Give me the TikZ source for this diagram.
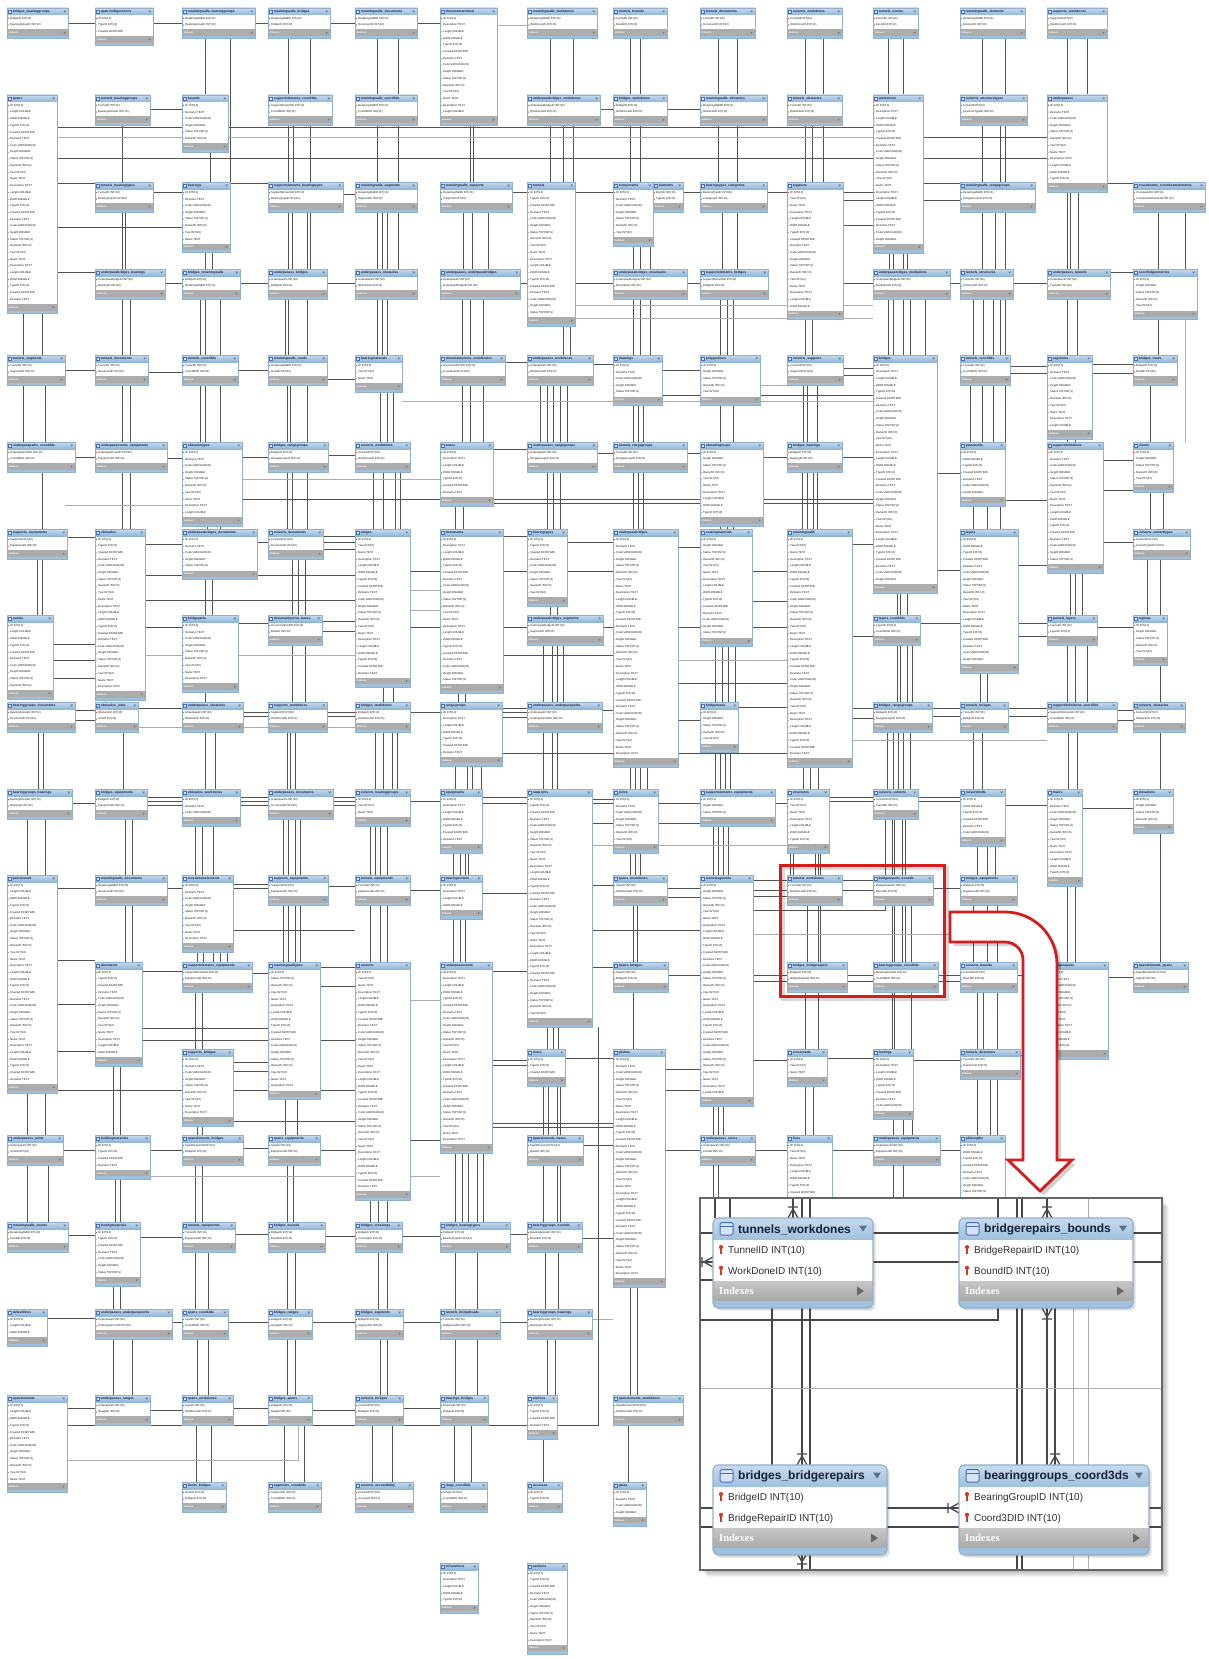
\documentclass[tikz,border=0pt]{standalone}
\usepackage{fontspec}
\setmainfont{Liberation Sans}
\newfontfamily\serifbf{Liberation Serif}
\definecolor{hdrT}{RGB}{200,219,238}
\definecolor{hdrB}{RGB}{143,182,216}
\definecolor{stripc}{RGB}{160,193,222}
\definecolor{idxc}{RGB}{172,172,172}
\definecolor{edgec}{RGB}{146,175,204}
\definecolor{ttlc}{RGB}{18,30,70}
\definecolor{trigc}{RGB}{90,112,145}
\definecolor{keyred}{RGB}{205,60,40}
\definecolor{attrc}{RGB}{110,150,195}
\definecolor{iconc}{RGB}{70,110,180}
\definecolor{iconf}{RGB}{214,228,246}
\definecolor{redc}{RGB}{214,28,28}
\definecolor{bidT}{RGB}{198,198,198}
\definecolor{bidB}{RGB}{170,170,170}
\definecolor{bttlc}{RGB}{22,32,58}
\tikzset{
 tnode/.style={rectangle, draw=none, fill=none, inner sep=0pt, outer sep=0pt},
 ttl/.style={anchor=west, inner sep=0pt, font=\fontsize{3.3}{3.6}\selectfont\bfseries, text=ttlc},
 fld/.style={anchor=west, inner sep=0pt, font=\fontsize{2.8}{3}\selectfont, text=black!90},
 idxt/.style={anchor=west, inner sep=0pt, font=\fontsize{2.6}{3}\selectfont\bfseries, text=white},
 cl/.style={draw=black!68, line width=0.55pt},
 cll/.style={draw=black!32, line width=0.45pt},
 il/.style={draw=black!72, line width=1.3pt},
 ill/.style={draw=black!32, line width=0.9pt},
 bttl/.style={anchor=west, inner sep=0pt, font=\fontsize{12}{14}\selectfont\bfseries, text=bttlc},
 bfld/.style={anchor=west, inner sep=0pt, font=\fontsize{10}{12}\selectfont, text=black!82},
 bidx/.style={anchor=west, inner sep=0pt, font=\serifbf\fontsize{10.5}{12}\selectfont\bfseries, text=white},
}
\newcommand\Gfld[1]{\ifcase#1 Name TEXT\or Description TEXT\or Length DOUBLE\or Width DOUBLE\or TypeID INT(10)\or Created DATETIME\or Remarks TEXT\or Code VARCHAR(45)\or Height DOUBLE\or Status TINYINT(1)\or OwnerID INT(10)\or Year INT(10)\fi}
% ---------- pass 1: nodes only
\newcommand\TblNode[6]{\pgfmathsetmacro\tbH{#5*6.7+17}\node[tnode, minimum width=#4pt, minimum height=\tbH pt, anchor=north west] (#1) at (#2,#3) {};}
\newcommand\TbjNode[7]{\TblNode{#1}{#2}{#3}{#4}{2}{#5}}
% ---------- pass 2: drawing
\newcommand{\TbCore}[6]{%
 \pgfmathsetmacro\tbH{#5*6.7+17}%
 \pgfmathsetmacro\tbI{#3+8+#5*6.7}%
 \fill[white] (#2,#3) rectangle ++(#4,\tbH);%
 \shade[top color=hdrT, bottom color=hdrB] (#2,#3) rectangle ++(#4,7);%
 \fill[idxc] (#2,\tbI) rectangle ++(#4,6.5);%
 \fill[stripc] (#2,\tbI+6.5) rectangle ++(#4,2.5);%
 \draw[edgec, line width=0.35pt] (#2,#3) rectangle ++(#4,\tbH);%
 \draw[iconc, fill=iconf, line width=0.3pt] (#2+1.3,#3+1.9) rectangle ++(3.2,3.2);%
 \fill[trigc] (#2+#4-4.6,#3+2.7) -- ++(2.6,0) -- ++(-1.3,1.7) -- cycle;%
 \node[ttl] (#1-t) at (#2+5.6,#3+3.6) {#6};%
 \node[idxt] (#1-i) at (#2+1.6,\tbI+3.3) {Indexes};%
 \fill[black!55] (#2+#4-4.2,\tbI+2.1) -- ++(0,2.3) -- ++(1.9,-1.15) -- cycle;%
}
\newcommand{\TblDraw}[6]{\TbCore{#1}{#2}{#3}{#4}{#5}{#6}%
 \foreach \i in {1,...,#5}{%
  \pgfmathsetmacro\fy{#3+7+(\i-0.5)*6.7}%
  \pgfmathtruncatemacro\kk{mod(\i+int(#2/37),12)}%
  \ifnum\i=1
   \fill[keyred] (#2+1.6,\fy) circle (0.6);
   \node[fld] (#1-f\i) at (#2+3,\fy) {ID INT(10)};
  \else
   \fill[attrc] (#2+1.6,\fy) circle (0.5);
   \node[fld] (#1-f\i) at (#2+3,\fy) {\Gfld{\kk}};
  \fi}}
\newcommand{\TbjDraw}[7]{\TbCore{#1}{#2}{#3}{#4}{2}{#5}%
 \fill[keyred] (#2+1.6,#3+10.35) circle (0.6);
 \node[fld] (#1-f1) at (#2+3,#3+10.35) {#6};
 \fill[keyred] (#2+1.6,#3+17.05) circle (0.6);
 \node[fld] (#1-f2) at (#2+3,#3+17.05) {#7};}
% ---------- connectors
\newcommand\VC[3]{\foreach \xx in {#3}{\draw[cl] (#1.south -| \xx,0) -- (#2.north -| \xx,0);}}
\newcommand\VCl[3]{\foreach \xx in {#3}{\draw[cll] (#1.south -| \xx,0) -- (#2.north -| \xx,0);}}
\newcommand\HC[3]{\foreach \yy in {#3}{\draw[cl] (#1.east |- 0,\yy) -- (#2.west |- 0,\yy);}}
\newcommand\HCl[3]{\foreach \yy in {#3}{\draw[cll] (#1.east |- 0,\yy) -- (#2.west |- 0,\yy);}}
% ---------- big tables
\newcommand\BigNode[4]{\node[tnode, minimum width=#4pt, minimum height=90pt, anchor=north west] (#1) at (#2,#3) {};}
\newcommand\BKey[2]{\fill[keyred] (#1,#2-3.6) circle (2.1); \draw[keyred, line width=1.3pt] (#1,#2-2) -- (#1,#2+3.6);}
\newcommand\BigTbl[7]{%
 \fill[black, opacity=0.13, rounded corners=5pt] (#2+2.5,#3+2.5) rectangle (#2+#4+2.5,#3+92.5);
 \fill[stripc, rounded corners=5pt] (#2,#3) rectangle (#2+#4,#3+90);
 \shade[top color=hdrT, bottom color=hdrB, rounded corners=5pt] (#2,#3) rectangle (#2+#4,#3+30);
 \fill[white] (#2,#3+22) rectangle (#2+#4,#3+63.5);
 \shade[top color=bidT, bottom color=bidB] (#2,#3+63.5) rectangle (#2+#4,#3+82);
 \draw[edgec, line width=1.1pt, rounded corners=5pt] (#2,#3) rectangle (#2+#4,#3+90);
 \draw[iconc, fill=iconf, line width=1pt, rounded corners=1.5pt] (#2+7,#3+4.5) rectangle (#2+20,#3+17);
 \draw[iconc, line width=0.8pt] (#2+7,#3+8) -- (#2+20,#3+8);
 \node[bttl] (#1-t) at (#2+25,#3+11.5) {#5};
 \fill[trigc] (#2+#4-14,#3+7.5) -- ++(8,0) -- ++(-4,6) -- cycle;
 \BKey{#2+8}{#3+32.7}
 \node[bfld] (#1-f1) at (#2+15,#3+32.7) {#6};
 \BKey{#2+8}{#3+53.4}
 \node[bfld] (#1-f2) at (#2+15,#3+53.4) {#7};
 \node[bidx] (#1-i) at (#2+6,#3+73) {Indexes};
 \fill[black!60] (#2+#4-16,#3+68.5) -- ++(0,9) -- ++(7,-4.5) -- cycle;
}
\newcommand\CfN[2]{\draw[il] (#1-5,#2) -- (#1,#2-9) -- (#1+5,#2) (#1,#2-9) -- (#1,#2) (#1-5,#2-11) -- (#1+5,#2-11);}
\newcommand\CfS[2]{\draw[il] (#1-5,#2) -- (#1,#2+9) -- (#1+5,#2) (#1,#2+9) -- (#1,#2) (#1-5,#2+11) -- (#1+5,#2+11);}
\newcommand\CfW[2]{\draw[il] (#1,#2-5) -- (#1-9,#2) -- (#1,#2+5) (#1-9,#2) -- (#1,#2) (#1-11,#2-5) -- (#1-11,#2+5);}
% ---------- table list
\newcommand\TableList{%
\Tbj{t0-0}{7}{8}{61}{bridges\_bearinggroups}{BridgeID INT(10)}{BearingGroupID INT(10)}
\Tbl{t1-0}{95}{8}{58}{3}{spanconfigurations}
\Tbj{t2-0}{182}{8}{73}{retainingwalls\_bearinggroups}{RetainingWallID INT(10)}{BearingGroupID INT(10)}
\Tbj{t3-0}{268}{8}{62}{retainingwalls\_bridges}{RetainingWallID INT(10)}{BridgeID INT(10)}
\Tbj{t4-0}{355}{8}{62}{retainingwalls\_documents}{RetainingWallID INT(10)}{DocumentID INT(10)}
\Tbl{t5-0}{440}{8}{57}{15}{documentarchival}
\Tbj{t6-0}{527}{8}{70}{retainingwalls\_workdones}{RetainingWallID INT(10)}{WorkDoneID INT(10)}
\Tbj{t7-0}{613}{8}{54}{tunnels\_bounds}{TunnelID INT(10)}{BoundID INT(10)}
\Tbj{t8-0}{700}{8}{55}{tunnels\_documents}{TunnelID INT(10)}{DocumentID INT(10)}
\Tbj{t9-0}{787}{8}{55}{culverts\_workdones}{CulvertID INT(10)}{WorkDoneID INT(10)}
\Tbj{t10-0}{873}{8}{45}{tunnels\_events}{TunnelID INT(10)}{EventID INT(10)}
\Tbj{t11-0}{960}{8}{65}{retainingwalls\_elements}{RetainingWallID INT(10)}{ElementID INT(10)}
\Tbj{t12-0}{1047}{8}{60}{supports\_workdones}{SupportID INT(10)}{WorkDoneID INT(10)}
%
\Tbl{t0-1}{7}{95}{50}{30}{spans}
\Tbj{t1-1}{95}{95}{55}{tunnels\_bearinggroups}{TunnelID INT(10)}{BearingGroupID INT(10)}
\Tbl{t2-1}{182}{95}{46}{6}{bounds}
\Tbj{t3-1}{268}{95}{64}{supportelements\_coord3ds}{SupportElementID INT(10)}{Coord3DID INT(10)}
\Tbj{t4-1}{355}{95}{62}{retainingwalls\_coord3ds}{RetainingWallID INT(10)}{Coord3DID INT(10)}
\Tbj{t6-1}{527}{95}{73}{underpassbridges\_workdones}{UnderpassBridgeID INT(10)}{WorkDoneID INT(10)}
\Tbj{t7-1}{613}{95}{54}{bridges\_workdones}{BridgeID INT(10)}{WorkDoneID INT(10)}
\Tbj{t8-1}{700}{95}{67}{retainingwalls\_obstacles}{RetainingWallID INT(10)}{ObstacleID INT(10)}
\Tbj{t9-1}{787}{95}{55}{tunnels\_obstacles}{TunnelID INT(10)}{ObstacleID INT(10)}
\Tbl{t10-1}{873}{95}{50}{21}{workdones}
\Tbj{t11-1}{960}{95}{67}{culverts\_structuretypes}{CulvertID INT(10)}{StructureTypeID INT(10)}
\Tbl{t12-1}{1047}{95}{60}{12}{underpasses}
%
\Tbj{t1-2}{95}{182}{58}{tunnels\_bearingtypes}{TunnelID INT(10)}{BearingTypeID INT(10)}
\Tbl{t2-2}{182}{182}{48}{8}{bearings}
\Tbj{t3-2}{268}{182}{75}{supportelements\_bearingtypes}{SupportElementID INT(10)}{BearingTypeID INT(10)}
\Tbj{t4-2}{355}{182}{62}{retainingwalls\_segments}{RetainingWallID INT(10)}{SegmentID INT(10)}
\Tbj{t5-2}{440}{182}{72}{retainingwalls\_supports}{RetainingWallID INT(10)}{SupportID INT(10)}
\Tbl{t6-2}{527}{182}{48}{19}{tunnels}
\Tbl{t7-2}{613}{182}{40}{7}{components}
\Tbj{t7b-2}{653}{182}{30}{elements}{ElemID INT(10)}{TypeID INT(10)}
\Tbj{t8-2}{700}{182}{67}{bearingtypes\_categories}{BearingTypeID INT(10)}{CategoryID INT(10)}
\Tbl{t9-2}{787}{182}{56}{18}{supports}
\Tbj{t11-2}{960}{182}{75}{retainingwalls\_rangegroups}{RetainingWallID INT(10)}{RangeGroupID INT(10)}
\Tbj{t13-2}{1133}{182}{72}{crossbeams\_crossbeamelements}{CrossbeamID INT(10)}{CrossbeamElementID INT(10)}
%
\Tbj{t1-3}{95}{269}{70}{underpassbridges\_bearings}{UnderpassBridgeID INT(10)}{BearingID INT(10)}
\Tbj{t2-3}{182}{269}{58}{bridges\_retainingwalls}{BridgeID INT(10)}{RetainingWallID INT(10)}
\Tbj{t3-3}{268}{269}{59}{underpasses\_bridges}{UnderpassID INT(10)}{BridgeID INT(10)}
\Tbj{t4-3}{355}{269}{62}{underpasses\_obstacles}{UnderpassID INT(10)}{ObstacleID INT(10)}
\Tbj{t5-3}{440}{269}{80}{underpasses\_underpassbridges}{UnderpassID INT(10)}{UnderpassBridgeID INT(10)}
\Tbj{t7-3}{613}{269}{74}{underpassbridges\_mountains}{UnderpassBridgeID INT(10)}{MountainID INT(10)}
\Tbj{t8-3}{700}{269}{68}{supportelements\_bridges}{SupportElementID INT(10)}{BridgeID INT(10)}
\Tbj{t10-3}{873}{269}{77}{underpassbridges\_mediations}{UnderpassBridgeID INT(10)}{MediationID INT(10)}
\Tbj{t11-3}{960}{269}{53}{tunnels\_structures}{TunnelID INT(10)}{StructureID INT(10)}
\Tbj{t12-3}{1047}{269}{63}{underpasses\_tunnels}{UnderpassID INT(10)}{TunnelID INT(10)}
\Tbl{t13-3}{1133}{269}{64}{5}{coord3dgeometries}
%
\Tbj{t0-4}{7}{355}{58}{tunnels\_segments}{TunnelID INT(10)}{SegmentID INT(10)}
\Tbj{t1-4}{95}{355}{53}{tunnels\_documents}{TunnelID INT(10)}{DocumentID INT(10)}
\Tbj{t2-4}{182}{355}{56}{tunnels\_coord3ds}{TunnelID INT(10)}{Coord3DID INT(10)}
\Tbj{t3-4}{268}{355}{59}{retainingwalls\_roads}{RetainingWallID INT(10)}{RoadID INT(10)}
\Tbl{t4-4}{355}{355}{47}{3}{bearingmaterials}
\Tbj{t5-4}{440}{355}{65}{documentpoints\_coordinates}{DocumentPointID INT(10)}{CoordinateID INT(10)}
\Tbj{t6-4}{527}{355}{66}{underpasses\_workdones}{UnderpassID INT(10)}{WorkDoneID INT(10)}
\Tbl{t7-4}{613}{355}{49}{5}{drawings}
\Tbl{t8-4}{700}{355}{60}{5}{polygonlines}
\Tbj{t9-4}{787}{355}{56}{culverts\_supports}{CulvertID INT(10)}{SupportID INT(10)}
\Tbl{t10-4}{873}{355}{64}{33}{bridges}
\Tbj{t11-4}{960}{355}{50}{tunnels\_coord3ds}{TunnelID INT(10)}{Coord3DID INT(10)}
\Tbl{t12-4}{1047}{355}{45}{10}{segments}
\Tbj{t13-4}{1133}{355}{44}{bridges\_roads}{BridgeID INT(10)}{RoadID INT(10)}
%
\Tbj{t0-5}{7}{442}{68}{underpasspaths\_coord3ds}{UnderpassPathID INT(10)}{Coord3DID INT(10)}
\Tbj{t1-5}{95}{442}{72}{underpassevents\_equipments}{UnderpassEventID INT(10)}{EquipmentID INT(10)}
\Tbl{t2-5}{182}{442}{60}{10}{obstacletypes}
\Tbj{t3-5}{268}{442}{60}{bridges\_rangegroups}{BridgeID INT(10)}{RangeGroupID INT(10)}
\Tbj{t4-5}{355}{442}{55}{culverts\_workdones}{CulvertID INT(10)}{WorkDoneID INT(10)}
\Tbl{t5-5}{440}{442}{53}{7}{zones}
\Tbj{t6-5}{527}{442}{70}{underpasses\_rangegroups}{UnderpassID INT(10)}{RangeGroupID INT(10)}
\Tbj{t7-5}{613}{442}{74}{tunnels\_rangegroups}{TunnelID INT(10)}{RangeGroupID INT(10)}
\Tbl{t8-5}{700}{442}{63}{10}{obstaclegroups}
\Tbj{t9-5}{787}{442}{55}{bridges\_bearings}{BridgeID INT(10)}{BearingID INT(10)}
\Tbl{t11-5}{960}{442}{45}{7}{pavements}
\Tbl{t12-5}{1047}{442}{56}{17}{supportdefinitions}
\Tbl{t13-5}{1133}{442}{40}{5}{clients}
%
\Tbj{t0-6}{7}{529}{60}{supports\_equipments}{SupportID INT(10)}{EquipmentID INT(10)}
\Tbl{t1-6}{95}{529}{50}{23}{obstacles}
\Tbl{t2-6}{182}{529}{75}{5}{underpassbridges\_documents}
\Tbj{t3-6}{268}{529}{55}{culverts\_documents}{CulvertID INT(10)}{DocumentID INT(10)}
\Tbl{t4-6}{355}{529}{55}{21}{ranges}
\Tbl{t5-6}{440}{529}{63}{22}{documents}
\Tbl{t6-6}{527}{529}{40}{9}{bearingtypes}
\Tbl{t7-6}{613}{529}{65}{33}{underpassbridges}
\Tbl{t8-6}{700}{529}{52}{15}{coatingmaterials}
\Tbl{t9-6}{787}{529}{65}{33}{retainingwalls}
\Tbl{t11-6}{960}{529}{58}{19}{layers}
\Tbj{t13-6}{1133}{529}{57}{culverts\_culverttypes}{CulvertID INT(10)}{CulvertTypeID INT(10)}
%
\Tbl{t0-7}{7}{615}{46}{10}{events}
\Tbl{t2-7}{182}{615}{56}{9}{bridgeparts}
\Tbj{t3-7}{268}{615}{54}{documentpoints\_bases}{DocumentPointID INT(10)}{BaseID INT(10)}
\Tbj{t6-7}{527}{615}{76}{underpassbridges\_segments}{UnderpassBridgeID INT(10)}{SegmentID INT(10)}
\Tbj{t10-7}{873}{615}{47}{layers\_coord3ds}{LayerID INT(10)}{Coord3DID INT(10)}
\Tbj{t12-7}{1047}{615}{50}{tunnels\_layers}{TunnelID INT(10)}{LayerID INT(10)}
\Tbl{t13-7}{1133}{615}{34}{5}{regions}
%
\Tbj{t0-8}{7}{702}{68}{bearinggroups\_documents}{BearingGroupID INT(10)}{DocumentID INT(10)}
\Tbj{t1-8}{95}{702}{43}{obstacles\_joins}{ObstacleID INT(10)}{JoinID INT(10)}
\Tbj{t2-8}{182}{702}{61}{underpasses\_obstacles}{UnderpassID INT(10)}{ObstacleID INT(10)}
\Tbj{t3-8}{268}{702}{59}{supports\_workdones}{SupportID INT(10)}{WorkDoneID INT(10)}
\Tbj{t4-8}{355}{702}{55}{bridges\_workdones}{BridgeID INT(10)}{WorkDoneID INT(10)}
\Tbl{t5-8}{440}{702}{62}{7}{rangegroups}
\Tbj{t6-8}{527}{702}{75}{underpasses\_underpasspaths}{UnderpassID INT(10)}{UnderpassPathID INT(10)}
\Tbl{t8-8}{700}{702}{38}{5}{bridgeheads}
\Tbj{t10-8}{873}{702}{59}{bridges\_rangegroups}{BridgeID INT(10)}{RangeGroupID INT(10)}
\Tbj{t11-8}{960}{702}{48}{tunnels\_bridges}{TunnelID INT(10)}{BridgeID INT(10)}
\Tbj{t12-8}{1047}{702}{70}{supportdefinitions\_coord3ds}{SupportDefinitionID INT(10)}{Coord3DID INT(10)}
\Tbj{t13-8}{1133}{702}{52}{culverts\_obstacles}{CulvertID INT(10)}{ObstacleID INT(10)}
%
\Tbj{t0-9}{7}{789}{65}{bearinggroups\_bearings}{BearingGroupID INT(10)}{BearingID INT(10)}
\Tbj{t1-9}{95}{789}{52}{bridges\_equipments}{BridgeID INT(10)}{EquipmentID INT(10)}
\Tbl{t2-9}{182}{789}{58}{3}{obstacles\_workdones}
\Tbj{t3-9}{268}{789}{65}{underpasses\_documents}{UnderpassID INT(10)}{DocumentID INT(10)}
\Tbl{t4-9}{355}{789}{55}{3}{culverts\_bearinggroups}
\Tbl{t5-9}{440}{789}{42}{7}{equipments}
\Tbl{t6-9}{527}{789}{65}{33}{rawpoints}
\Tbl{t7-9}{613}{789}{45}{7}{joints}
\Tbl{t8-9}{700}{789}{75}{3}{supportelements\_equipments}
\Tbl{t9-9}{787}{789}{42}{7}{structures}
\Tbj{t10-9}{873}{789}{45}{culverts\_culverts}{CulvertID INT(10)}{ParentID INT(10)}
\Tbl{t11-9}{960}{789}{45}{6}{culvertdrafts}
\Tbl{t12-9}{1047}{789}{35}{12}{towns}
\Tbl{t13-9}{1133}{789}{40}{4}{elevations}
%
\Tbl{t0-10}{7}{875}{50}{30}{pointclouds}
\Tbj{t1-10}{95}{875}{72}{retainingwalls\_documents}{RetainingWallID INT(10)}{DocumentID INT(10)}
\Tbl{t2-10}{182}{875}{51}{9}{crossbeamelements}
\Tbj{t3-10}{268}{875}{60}{supports\_equipments}{SupportID INT(10)}{EquipmentID INT(10)}
\Tbj{t4-10}{355}{875}{55}{tunnels\_equipments}{TunnelID INT(10)}{EquipmentID INT(10)}
\Tbl{t5-10}{440}{875}{42}{4}{bearingmodels}
\Tbj{t7-10}{613}{875}{54}{spans\_workdones}{SpanID INT(10)}{WorkDoneID INT(10)}
\Tbl{t8-10}{700}{875}{53}{32}{tunnelsegments}
\Tbj{t9-10}{787}{875}{55}{tunnels\_workdones}{TunnelID INT(10)}{WorkDoneID INT(10)}
\Tbj{t10-10}{873}{875}{60}{bridgerepairs\_bounds}{BridgeRepairID INT(10)}{BoundID INT(10)}
\Tbj{t11-10}{960}{875}{57}{bridges\_equipments}{BridgeID INT(10)}{EquipmentID INT(10)}
%
\Tbl{t1-11}{95}{962}{47}{13}{abutments}
\Tbj{t2-11}{182}{962}{70}{supportelements\_equipments}{SupportElementID INT(10)}{EquipmentID INT(10)}
\Tbl{t3-11}{268}{962}{52}{18}{retainingwalltypes}
\Tbl{t4-11}{355}{962}{55}{33}{culverts}
\Tbl{t5-11}{440}{962}{52}{26}{underpassevents}
\Tbj{t7-11}{613}{962}{55}{spans\_bridges}{SpanID INT(10)}{BridgeID INT(10)}
\Tbj{t9-11}{787}{962}{60}{bridges\_bridgerepairs}{BridgeID INT(10)}{BridgeRepairID INT(10)}
\Tbj{t10-11}{873}{962}{65}{bearinggroups\_coord3ds}{BearingGroupID INT(10)}{Coord3DID INT(10)}
\Tbj{t11-11}{960}{962}{57}{culverts\_bounds}{CulvertID INT(10)}{BoundID INT(10)}
\Tbl{t12-11}{1047}{962}{61}{12}{bridgerepairs}
\Tbj{t13-11}{1133}{962}{55}{spanelements\_spans}{SpanElementID INT(10)}{SpanID INT(10)}
%
\Tbl{t2-12}{182}{1049}{51}{9}{supports\_bridges}
\Tbl{t6-12}{527}{1049}{38}{3}{rivers}
\Tbl{t7-12}{613}{1049}{52}{33}{girders}
\Tbl{t9-12}{787}{1049}{40}{3}{crossroads}
\Tbl{t10-12}{873}{1049}{40}{8}{footings}
\Tbj{t11-12}{960}{1049}{60}{tunnels\_directions}{TunnelID INT(10)}{DirectionID INT(10)}
%
\Tbj{t0-13}{7}{1135}{56}{underpasses\_joints}{UnderpassID INT(10)}{JointID INT(10)}
\Tbl{t1-13}{95}{1135}{55}{4}{buildingmaterials}
\Tbj{t2-13}{182}{1135}{61}{spanelements\_bridges}{SpanElementID INT(10)}{BridgeID INT(10)}
\Tbj{t3-13}{268}{1135}{52}{spans\_equipments}{SpanID INT(10)}{EquipmentID INT(10)}
\Tbj{t6-13}{527}{1135}{56}{spanelements\_bases}{SpanElementID INT(10)}{BaseID INT(10)}
\Tbj{t8-13}{700}{1135}{55}{underpasses\_zones}{UnderpassID INT(10)}{ZoneID INT(10)}
\Tbl{t9-13}{787}{1135}{45}{10}{lines}
\Tbj{t10-13}{873}{1135}{67}{underpasses\_equipments}{UnderpassID INT(10)}{EquipmentID INT(10)}
\Tbl{t11-13}{960}{1135}{45}{10}{pilelengths}
%
\Tbj{t0-14}{7}{1222}{61}{retainingwalls\_events}{RetainingWallID INT(10)}{EventID INT(10)}
\Tbl{t1-14}{95}{1222}{45}{7}{footingmaterials}
\Tbj{t2-14}{182}{1222}{53}{tunnels\_equipments}{TunnelID INT(10)}{EquipmentID INT(10)}
\Tbj{t3-14}{268}{1222}{57}{bridges\_bounds}{BridgeID INT(10)}{BoundID INT(10)}
\Tbj{t4-14}{355}{1222}{47}{bridges\_crossings}{BridgeID INT(10)}{CrossingID INT(10)}
\Tbj{t5-14}{440}{1222}{70}{bridges\_bearingtypes}{BridgeID INT(10)}{BearingTypeID INT(10)}
\Tbj{t6-14}{527}{1222}{55}{bearinggroups\_bounds}{BearingGroupID INT(10)}{BoundID INT(10)}
%
\Tbl{t0-15}{7}{1309}{40}{3}{defaultlines}
\Tbj{t1-15}{95}{1309}{77}{underpasses\_underpasspoints}{UnderpassID INT(10)}{UnderpassPointID INT(10)}
\Tbj{t2-15}{182}{1309}{46}{spans\_coord3ds}{SpanID INT(10)}{Coord3DID INT(10)}
\Tbj{t3-15}{268}{1309}{44}{bridges\_ranges}{BridgeID INT(10)}{RangeID INT(10)}
\Tbj{t4-15}{355}{1309}{48}{bridges\_segments}{BridgeID INT(10)}{SegmentID INT(10)}
\Tbj{t5-15}{440}{1309}{60}{tunnels\_bridgeheads}{TunnelID INT(10)}{BridgeheadID INT(10)}
\Tbj{t6-15}{527}{1309}{65}{bearinggroups\_bearings}{BearingGroupID INT(10)}{BearingID INT(10)}
%
\Tbl{t0-16}{7}{1395}{60}{12}{spanelements}
\Tbj{t1-16}{95}{1395}{55}{underpasses\_ranges}{UnderpassID INT(10)}{RangeID INT(10)}
\Tbj{t2-16}{182}{1395}{51}{spans\_workdones}{SpanID INT(10)}{WorkDoneID INT(10)}
\Tbj{t3-16}{268}{1395}{44}{bridges\_spans}{BridgeID INT(10)}{SpanID INT(10)}
\Tbj{t4-16}{355}{1395}{48}{culverts\_bridges}{CulvertID INT(10)}{BridgeID INT(10)}
\Tbj{t5-16}{440}{1395}{48}{bearings\_bridges}{BearingID INT(10)}{BridgeID INT(10)}
\Tbl{t6-16}{527}{1395}{30}{4}{stations}
\Tbj{t7-16}{613}{1395}{70}{spanelements\_workdones}{SpanElementID INT(10)}{WorkDoneID INT(10)}
%
\Tbj{t2-17}{182}{1482}{44}{doors\_bridges}{DoorID INT(10)}{BridgeID INT(10)}
\Tbj{t3-17}{268}{1482}{53}{segments\_coord3ds}{SegmentID INT(10)}{Coord3DID INT(10)}
\Tbj{t4-17}{355}{1482}{58}{culverts\_accessibility}{CulvertID INT(10)}{AccessID INT(10)}
\Tbj{t5-17}{440}{1482}{47}{rings\_coord3ds}{RingID INT(10)}{Coord3DID INT(10)}
\Tbl{t6-17}{527}{1482}{35}{2}{accesses}
\Tbl{t7-17}{613}{1482}{33}{4}{gates}
%
\Tbl{t5-18}{440}{1563}{38}{5}{infostations}
\Tbl{t6-18}{527}{1563}{40}{11}{sections}
}
\begin{document}
\begin{tikzpicture}[x=1pt,y=-1pt]
\useasboundingbox (0,0) rectangle (1208,1659);
\fill[white] (0,0) rectangle (1208,1659);
% ===== pass 1: define table nodes
\let\Tbl\TblNode \let\Tbj\TbjNode
\TableList
% ===== vertical connectors
\VC{t0-1}{t0-4}{23,42} \VC{t0-4}{t0-5}{23,45} \VC{t0-5}{t0-6}{42} \VC{t0-6}{t0-7}{37,42}
\VC{t0-8}{t0-9}{38,43} \VC{t0-9}{t0-10}{27,45} \VC{t0-10}{t0-13}{27,45} \VC{t0-13}{t0-14}{27,48}
\VC{t1-1}{t1-2}{122} \VC{t1-2}{t1-3}{122,125} \VC{t1-3}{t1-4}{122,130} \VC{t1-4}{t1-5}{122,130}
\VC{t1-5}{t1-6}{122,130} \VC{t1-8}{t1-9}{123} \VC{t1-9}{t1-10}{125,132} \VC{t1-10}{t1-11}{125,132}
\VC{t1-11}{t1-13}{113,120} \VC{t1-13}{t1-14}{115,120} \VC{t1-14}{t1-15}{113,120} \VC{t1-15}{t1-16}{113,132}
\VC{t2-0}{t2-1}{205} \VC{t2-0}{t2-2}{230} \VC{t2-1}{t2-2}{210} \VC{t2-2}{t2-3}{205,212}
\VC{t2-3}{t2-4}{200,205,220} \VC{t2-4}{t2-5}{200,205,220} \VC{t2-5}{t2-6}{207,220} \VC{t2-6}{t2-7}{205,212}
\VC{t2-7}{t2-8}{205} \VC{t2-8}{t2-9}{205,215} \VC{t2-9}{t2-10}{195,202,213} \VC{t2-10}{t2-11}{197,203,213,220,227}
\VC{t2-11}{t2-12}{195,202} \VC{t2-12}{t2-13}{197,202} \VC{t2-13}{t2-14}{195,202} \VC{t2-14}{t2-15}{195,208}
\VC{t2-15}{t2-16}{197,208} \VC{t2-16}{t2-17}{196,211}
\VC{t3-0}{t3-1}{288,310} \VC{t3-1}{t3-2}{288,293,310} \VC{t3-2}{t3-3}{288,292,307,310} \VC{t3-3}{t3-4}{285,288,307}
\VC{t3-4}{t3-5}{287,290,307} \VC{t3-5}{t3-6}{287,292,307} \VC{t3-6}{t3-7}{292,298,305} \VC{t3-7}{t3-8}{292,305}
\VC{t3-8}{t3-9}{287,290,295} \VC{t3-9}{t3-10}{283,288,295,300} \VC{t3-10}{t3-11}{283,288,295,300} \VC{t3-11}{t3-13}{285,297}
\VC{t3-13}{t3-14}{287,293} \VC{t3-14}{t3-15}{287,295} \VC{t3-15}{t3-16}{287,295} \VC{t3-16}{t3-17}{284,304}
\VC{t4-0}{t4-1}{377,398} \VC{t4-1}{t4-2}{377,398} \VC{t4-2}{t4-3}{377,382,387,398} \VC{t4-3}{t4-4}{377,382,387}
\VC{t4-4}{t4-5}{380,387,393} \VC{t4-5}{t4-6}{373,383,395,400} \VC{t4-6}{t4-8}{383,393} \VC{t4-8}{t4-9}{375,383,392,397}
\VC{t4-9}{t4-10}{370,375,380,387} \VC{t4-10}{t4-11}{370,380,387} \VC{t4-11}{t4-14}{370,378,387} \VC{t4-14}{t4-15}{378,387}
\VC{t4-15}{t4-16}{380,387} \VC{t4-16}{t4-17}{372,392}
\VC{t5-0}{t5-2}{470,473} \VC{t5-2}{t5-3}{463,472,488} \VC{t5-3}{t5-4}{462,470,483} \VC{t5-4}{t5-5}{462,470,483}
\VC{t5-5}{t5-6}{455,463} \VC{t5-6}{t5-8}{458,465} \VC{t5-8}{t5-9}{455,467,472,481} \VC{t5-9}{t5-10}{453,460,465,468}
\VC{t5-10}{t5-11}{453,460,465} \VC{t5-11}{t5-14}{455,462,468,477,483} \VC{t5-14}{t5-15}{455,477} \VC{t5-15}{t5-16}{455,477}
\VC{t5-16}{t5-17}{454,471}
\VC{t6-0}{t6-1}{550,573} \VC{t6-1}{t6-2}{550,563,573} \VC{t6-2}{t6-4}{563,570} \VC{t6-4}{t6-5}{540,547,553,560,567}
\VC{t6-5}{t6-6}{547,553,560} \VC{t6-6}{t6-7}{550,557} \VC{t6-7}{t6-8}{543,552,557,563} \VC{t6-8}{t6-9}{543,552,557}
\VC{t6-9}{t6-12}{547,553,558} \VC{t6-12}{t6-13}{543,548,557,560} \VC{t6-13}{t6-14}{543,557,560} \VC{t6-14}{t6-15}{545,558}
\VC{t6-15}{t6-16}{547,555} \VC{t6-16}{t6-17}{543}
\VC{t7-0}{t7-1}{630,640} \VC{t7-1}{t7-2}{630,640} \VC{t7-2}{t7-4}{633,640,650} \VC{t7-4}{t7-5}{633,638,643}
\VC{t7-5}{t7-6}{633,638,643} \VC{t7-6}{t7-9}{630,635,640,647} \VC{t7-9}{t7-10}{630,635,640} \VC{t7-10}{t7-11}{633,637}
\VC{t7-11}{t7-12}{633} \VC{t7-12}{t7-16}{630,637} \VC{t7-16}{t7-17}{628}
\VC{t8-0}{t8-1}{718,737} \VC{t8-1}{t8-2}{718,737} \VC{t8-2}{t8-3}{722,737} \VC{t8-3}{t8-4}{720,727,733}
\VC{t8-4}{t8-5}{720,733} \VC{t8-5}{t8-6}{720,727,733} \VC{t8-6}{t8-8}{715,722,728,735} \VC{t8-8}{t8-9}{715,720,725,730}
\VC{t8-9}{t8-10}{713,718,723,728} \VC{t8-10}{t8-13}{713,718,723}
\VC{t9-0}{t9-1}{805,823} \VC{t9-1}{t9-2}{805,812,823} \VC{t9-2}{t9-4}{805,812} \VC{t9-4}{t9-5}{803,807,817}
\VC{t9-5}{t9-6}{802,807,813,817} \VC{t9-6}{t9-9}{803,810,818} \VC{t9-9}{t9-10}{790,793,815,818,820}
\VC{t9-10}{t9-11}{807,818,820} \VC{t9-11}{t9-12}{805,818} \VC{t9-12}{t9-13}{805,813}
\VC{t10-0}{t10-1}{888,903} \VC{t10-1}{t10-3}{889,893,903,907} \VC{t10-3}{t10-4}{888,893,903,910,925}
\VC{t10-4}{t10-7}{897,900,907} \VC{t10-7}{t10-8}{897,900,907,912} \VC{t10-8}{t10-9}{887,893,898,903,910}
\VC{t10-9}{t10-10}{892,894,902,905} \VC{t10-10}{t10-11}{892,894,902,905,911} \VC{t10-11}{t10-12}{892,894,911}
\VC{t10-12}{t10-13}{893,903,912}
\VC{t11-0}{t11-1}{982,1005} \VC{t11-1}{t11-2}{982,1000,1005} \VC{t11-2}{t11-3}{982,995,1005}
\VC{t11-3}{t11-4}{973,983,993,1000,1005} \VC{t11-4}{t11-5}{970,982,993,1005} \VC{t11-5}{t11-6}{973,987,1000}
\VC{t11-6}{t11-8}{980,987} \VC{t11-8}{t11-9}{973,982} \VC{t11-9}{t11-10}{977,987,995} \VC{t11-10}{t11-11}{973,987,997}
\VC{t11-11}{t11-12}{977,983,997} \VC{t11-12}{t11-13}{977,990,997}
\VC{t12-0}{t12-1}{1067,1087} \VC{t12-1}{t12-3}{1067,1070,1078} \VC{t12-3}{t12-4}{1067,1077} \VC{t12-4}{t12-5}{1067,1075}
\VC{t12-5}{t12-7}{1070,1075,1082} \VC{t12-7}{t12-8}{1067,1075,1087} \VC{t12-8}{t12-9}{1068,1077} \VC{t12-9}{t12-11}{1067,1075}
\VC{t13-2}{t13-3}{1158,1185} \VC{t13-3}{t13-4}{1158} \VC{t13-4}{t13-5}{1150} \VC{t13-5}{t13-6}{1150,1163}
\VC{t13-6}{t13-7}{1147,1160} \VC{t13-7}{t13-8}{1160} \VC{t13-8}{t13-9}{1160} \VC{t13-9}{t13-11}{1160}
\VCl{t13-3}{t13-5}{1185} \VCl{t1-6}{t1-8}{105}
% ===== horizontal connectors
\HC{t0-0}{t1-0}{23} \HC{t1-0}{t2-0}{23} \HC{t2-0}{t3-0}{23} \HC{t3-0}{t4-0}{23} \HC{t4-0}{t5-0}{23} \HCl{t5-0}{t6-0}{25}
\HC{t1-1}{t2-1}{109} \HC{t0-1}{t10-1}{127,158} \HCl{t0-1}{t10-1}{137} \HC{t6-1}{t7-1}{109} \HC{t7-1}{t8-1}{109}
\HC{t10-1}{t12-1}{137,158}
\HC{t0-1}{t1-2}{183} \HC{t1-2}{t2-2}{192} \HC{t2-2}{t3-2}{183} \HC{t3-2}{t4-2}{194} \HC{t0-1}{t2-2}{227}
\HC{t5-2}{t6-2}{192} \HC{t6-2}{t7-2}{192} \HC{t7b-2}{t8-2}{192} \HC{t8-2}{t9-2}{192} \HC{t9-2}{t10-1}{192,200,225}
\HC{t10-1}{t11-2}{183,200} \HC{t12-1}{t13-2}{183}
\HC{t0-1}{t1-3}{272} \HC{t1-3}{t2-3}{283} \HC{t2-3}{t3-3}{283} \HC{t3-3}{t4-3}{283} \HC{t5-3}{t6-2}{283}
\HC{t6-2}{t7-3}{283} \HC{t7-3}{t8-3}{283} \HC{t9-2}{t10-3}{283} \HC{t10-3}{t11-3}{283} \HC{t11-3}{t12-3}{283} \HC{t12-3}{t13-3}{272}
\HCl{t6-2}{t10-3}{305,318} \HCl{t4-4}{t10-4}{401}
\HC{t0-4}{t1-4}{370} \HC{t1-4}{t2-4}{372} \HC{t2-4}{t3-4}{370} \HC{t3-4}{t4-4}{379} \HC{t5-4}{t6-4}{362}
\HC{t6-4}{t7-4}{364} \HC{t7-4}{t8-4}{370} \HC{t9-4}{t10-4}{368,375} \HC{t11-4}{t12-4}{366,373} \HC{t12-4}{t13-4}{364,373}
\HC{t7-4}{t10-4}{395} \HCl{t8-4}{t9-4}{385}
\HC{t0-5}{t1-5}{457} \HC{t1-5}{t2-5}{458} \HC{t2-5}{t3-5}{457} \HC{t3-5}{t4-5}{455} \HC{t5-5}{t6-5}{449}
\HC{t6-5}{t7-5}{453} \HC{t7-5}{t8-5}{453} \HC{t2-5}{t5-5}{499} \HC{t5-5}{t8-5}{499,503} \HC{t8-5}{t10-4}{499,503}
\HC{t10-4}{t11-5}{473} \HC{t11-5}{t12-5}{500} \HC{t12-5}{t13-5}{460,490} \HC{t9-5}{t10-4}{457} \HC{t8-5}{t9-5}{457}
\HCl{t2-5}{t5-5}{479} \HCl{t0-4}{t2-5}{505}
\HC{t0-6}{t1-6}{537} \HC{t1-6}{t2-6}{544} \HC{t2-6}{t3-6}{542} \HC{t3-6}{t4-6}{536,542,549} \HC{t1-6}{t4-6}{575,600}
\HC{t4-6}{t5-6}{571,627} \HC{t5-6}{t6-6}{536} \HC{t6-6}{t7-6}{542} \HC{t7-6}{t8-6}{547} \HC{t8-6}{t9-6}{571,601}
\HC{t5-6}{t7-6}{571,627,655} \HC{t7-6}{t9-6}{627,683} \HC{t9-6}{t10-4}{544} \HC{t10-4}{t11-6}{570} \HC{t11-6}{t12-5}{565}
\HC{t12-5}{t13-6}{542} \HCl{t4-6}{t5-6}{590,610} \HCl{t7-6}{t9-6}{660}
\HC{t0-7}{t1-6}{644,660,678} \HC{t1-6}{t2-7}{627} \HC{t2-7}{t3-7}{623} \HC{t3-7}{t4-6}{621,631} \HC{t9-6}{t10-7}{636}
\HC{t10-7}{t11-6}{623} \HC{t11-6}{t12-7}{623,636} \HC{t12-7}{t13-7}{627} \HCl{t1-6}{t4-6}{655}
\HC{t0-8}{t1-8}{710,720} \HC{t1-8}{t2-8}{708} \HC{t2-8}{t3-8}{712,716} \HC{t3-8}{t4-8}{712,716} \HC{t4-8}{t5-8}{712}
\HC{t5-8}{t6-8}{708,712,717} \HC{t6-8}{t7-6}{710} \HC{t8-8}{t9-6}{707} \HC{t7-6}{t8-8}{720} \HC{t5-8}{t7-6}{753}
\HC{t7-6}{t9-6}{753} \HC{t9-6}{t10-8}{708,718} \HC{t10-8}{t11-8}{708,716} \HC{t11-8}{t12-8}{708,716} \HC{t12-8}{t13-8}{710,720}
\HCl{t1-8}{t4-8}{727} \HCl{t9-6}{t12-8}{740}
\HC{t0-9}{t1-9}{803} \HC{t1-9}{t2-9}{797,801,805} \HC{t2-9}{t3-9}{797,801,805} \HC{t3-9}{t4-9}{797,801,805} \HC{t4-9}{t5-9}{801}
\HC{t5-9}{t6-9}{797,803} \HC{t6-9}{t7-9}{799,803} \HC{t7-9}{t8-9}{803} \HC{t8-9}{t9-9}{803} \HC{t9-9}{t10-9}{797,801}
\HC{t10-9}{t11-9}{797,801} \HC{t11-9}{t12-9}{805} \HC{t12-9}{t13-9}{808} \HC{t6-9}{t8-9}{823} \HCl{t6-9}{t9-9}{845}
\HC{t0-10}{t1-10}{888} \HC{t1-10}{t2-10}{888} \HC{t2-10}{t3-10}{884,888} \HC{t3-10}{t4-10}{886} \HC{t4-10}{t5-10}{890}
\HC{t5-10}{t6-9}{893} \HC{t6-9}{t7-10}{885} \HC{t7-10}{t8-10}{888,897} \HC{t8-10}{t9-10}{880,890,896} \HC{t9-10}{t10-10}{880,890}
\HC{t10-10}{t11-10}{888} \HC{t2-10}{t4-11}{930} \HC{t6-9}{t8-10}{930} \HC{t0-10}{t1-11}{960} \HCl{t8-10}{t12-9}{934}
\draw[cl] (t8-10.east |- 0,910) -| (t10-9.south -| 885,0);
\HC{t1-11}{t2-11}{971} \HC{t2-11}{t3-11}{973} \HC{t3-11}{t4-11}{967,986} \HC{t0-10}{t1-11}{1004,1051} \HC{t1-11}{t3-11}{1028}
\HC{t1-11}{t4-11}{1040} \HC{t0-10}{t4-11}{1090} \HC{t5-11}{t6-9}{971} \HC{t5-11}{t6-12}{1060,1065} \HC{t6-9}{t7-11}{967}
\HC{t7-11}{t8-10}{975} \HC{t8-10}{t9-11}{975,981} \HC{t9-11}{t10-11}{975,981} \HC{t10-11}{t11-11}{975,981}
\HC{t11-11}{t12-11}{975} \HC{t12-11}{t13-11}{977} \HCl{t4-11}{t5-11}{1000}
\HC{t2-12}{t3-11}{1062,1071} \HC{t2-12}{t4-11}{1121} \HC{t5-11}{t7-12}{1123,1127} \HC{t6-12}{t7-12}{1058}
\HC{t7-12}{t8-10}{1069,1090} \HC{t8-10}{t9-12}{1060} \HC{t9-12}{t10-12}{1058} \HC{t10-12}{t11-12}{1060} \HC{t11-12}{t12-11}{1055}
\HC{t0-13}{t1-13}{1150} \HC{t1-13}{t2-13}{1150} \HC{t2-13}{t3-13}{1148} \HC{t3-13}{t4-11}{1150} \HC{t4-11}{t5-11}{1140}
\HC{t6-13}{t7-12}{1145} \HC{t7-12}{t8-13}{1150} \HC{t8-13}{t9-13}{1150} \HC{t9-13}{t10-13}{1150} \HC{t10-13}{t11-13}{1150}
\HCl{t4-11}{t5-11}{1176} \HCl{t1-13}{t4-11}{1176}
\HC{t0-14}{t1-14}{1235} \HC{t1-14}{t2-14}{1237} \HC{t2-14}{t3-14}{1234} \HC{t3-14}{t4-14}{1236} \HC{t4-14}{t5-14}{1236}
\HC{t5-14}{t6-14}{1234} \HC{t6-14}{t7-12}{1238}
\HC{t0-15}{t1-15}{1318} \HC{t1-15}{t2-15}{1322} \HC{t2-15}{t3-15}{1322} \HC{t3-15}{t4-15}{1322} \HC{t4-15}{t5-15}{1322}
\HC{t5-15}{t6-15}{1322} \HCl{t6-15}{t7-12}{1319}
\HC{t0-16}{t1-16}{1408} \HC{t1-16}{t2-16}{1410} \HC{t2-16}{t3-16}{1408} \HC{t3-16}{t4-16}{1410} \HC{t4-16}{t5-16}{1408}
\draw[cl] (t0-16.east |- 0,1425) -| (t6-9.south -| 598,0);
\draw[cll] (t0-16.east |- 0,1460) -| (t3-16.south -| 298,0);
% ===== pass 2: draw tables
\let\Tbl\TblDraw \let\Tbj\TbjDraw
\TableList
% ===== red highlight box
\draw[black, opacity=0.15, line width=4pt] (783,868) rectangle (947,999);
\node[tnode, draw=redc, line width=3pt, minimum width=164pt, minimum height=131pt] (hilite) at (862,930.5) {};
% ===== curved hollow arrow
\fill[black, opacity=0.18] (954,916) -- (1009,916) .. controls (1037.7,916) and (1061,939.3) .. (1061,968) -- (1061,1164) -- (1076,1164) -- (1044,1195) -- (1012,1164) -- (1027,1164) -- (1027,964) .. controls (1027,954.1) and (1018.9,946) .. (1009,946) -- (954,946) -- cycle;
\filldraw[draw=redc, fill=white, line width=2.8pt, line join=miter] (950,912) -- (1005,912) .. controls (1033.7,912) and (1057,935.3) .. (1057,964) -- (1057,1160) -- (1072,1160) -- (1040,1191) -- (1008,1160) -- (1023,1160) -- (1023,960) .. controls (1023,950.1) and (1014.9,942) .. (1005,942) -- (950,942) -- cycle;
% ===== inset
\foreach \k in {1,...,7}{\fill[black, opacity=0.045] (700+\k,1199+\k) rectangle (1162+\k,1570+\k);}
\node[tnode, fill=white, draw=black!60, line width=1.4pt, minimum width=462pt, minimum height=372pt] (inset) at (931,1384) {};
\draw[cl] (t8-13.south -| 713,0) -- (inset.north -| 713,0);
\draw[cl] (t8-13.south -| 718,0) -- (inset.north -| 718,0);
\draw[cl] (t10-13.south -| 893,0) -- (inset.north -| 893,0);
\draw[cl] (t10-13.south -| 903,0) -- (inset.north -| 903,0);
\BigNode{tw}{713}{1218}{160}
\BigNode{br}{959}{1218}{174}
\BigNode{bb}{713}{1465}{174}
\BigNode{bg}{959}{1465}{190}
\begin{scope}
\clip (700,1198) rectangle (1162,1570);
\draw[il] (inset.north -| 715,0) -- (tw.north -| 715,0);
\draw[il] (inset.north -| 730,0) -- (tw.north -| 730,0);
\draw[il] (inset.north -| 793,0) -- (tw.north -| 793,0);
\draw[il] (inset.north -| 802,0) -- (inset.south -| 802,0);
\draw[il] (inset.north -| 810,0) -- (inset.south -| 810,0);
\draw[il] (tw.south -| 772,0) -- (bb.north -| 772,0);
\draw[il] (inset.west |- 0,1320) -| (inset.north -| 998,0);
\draw[il] (inset.north -| 1017,0) -- (inset.south -| 1017,0);
\draw[il] (inset.north -| 1022,0) -- (inset.south -| 1022,0);
\draw[il] (inset.north -| 1047,0) -- (bg.north -| 1047,0);
\draw[il] (br.south -| 1055,0) -- (bg.north -| 1055,0);
\draw[ill] (br.south -| 1073,0) -- (inset.south -| 1073,0);
\draw[ill] (inset.north -| 1088,0) -- (inset.south -| 1088,0);
\foreach \yy in {1233,1262}{
 \draw[il] (inset.west |- 0,\yy) -- (tw.west |- 0,\yy);
 \draw[il] (tw.east |- 0,\yy) -- (br.west |- 0,\yy);
 \draw[il] (br.east |- 0,\yy) -- (inset.east |- 0,\yy);}
\draw[il] (inset.west |- 0,1280) -- (tw.west |- 0,1280);
\draw[ill] (inset.west |- 0,1388) -- (inset.east |- 0,1388);
\foreach \yy in {1508,1527}{
 \draw[il] (inset.west |- 0,\yy) -- (bb.west |- 0,\yy);
 \draw[il] (bb.east |- 0,\yy) -- (bg.west |- 0,\yy);
 \draw[il] (bg.east |- 0,\yy) -- (inset.east |- 0,\yy);}
\CfN{793}{1218} \CfW{713}{1262} \CfN{1047}{1218} \CfS{1047}{1308}
\CfN{802}{1465} \CfN{1055}{1465} \CfW{959}{1508} \CfS{802}{1553}
\BigTbl{tw}{713}{1218}{160}{tunnels\_workdones}{TunnelID INT(10)}{WorkDoneID INT(10)}
\BigTbl{br}{959}{1218}{174}{bridgerepairs\_bounds}{BridgeRepairID INT(10)}{BoundID INT(10)}
\BigTbl{bb}{713}{1465}{174}{bridges\_bridgerepairs}{BridgeID INT(10)}{BridgeRepairID INT(10)}
\BigTbl{bg}{959}{1465}{190}{bearinggroups\_coord3ds}{BearingGroupID INT(10)}{Coord3DID INT(10)}
\end{scope}
\draw[black!60, line width=1.4pt] (inset.south west) rectangle (inset.north east);
\end{tikzpicture}
\end{document}
